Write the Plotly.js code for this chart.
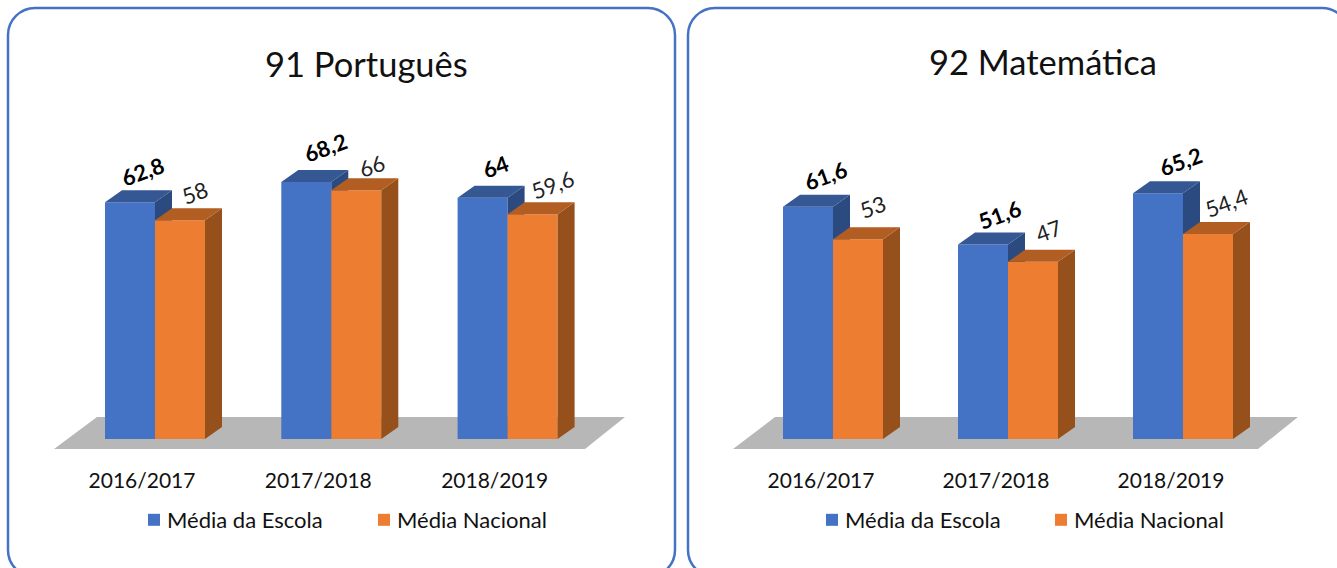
<!DOCTYPE html>
<html>
<head>
<meta charset="utf-8">
<script src="https://cdn.plot.ly/plotly-3.0.1.min.js"></script>
<style>html,body{margin:0;padding:0;background:#fff;overflow:hidden}#chart{width:1337px;height:568px}
.legendtext,.legend2text,.legend3text,.legend4text{transform:translateX(-7px)}</style>
</head>
<body>
<div id="chart"></div>
<script>
const categories = ['2016/2017', '2017/2018', '2018/2019'];
const seriesNames = ['Média da Escola', 'Média Nacional'];
const portuguesEscola = [62.8, 68.2, 64];
const portuguesNacional = [58, 66, 59.6];
const matematicaEscola = [61.6, 51.6, 65.2];
const matematicaNacional = [53, 47, 54.4];

const W = 1337, H = 568, FONT = 'Lato, "Open Sans", sans-serif';
const BLUE = {front: '#4472C4', top: '#355895', side: '#2A4A80'};
const ORANGE = {front: '#ED7D31', top: '#B25D22', side: '#95501C'};
const pxPerUnit = 3.77, baseY = 439, plotTop = 100, plotBottom = 449;
const barW = 50, depthX = 17, depthY = 12;
const fmt = v => String(v).replace('.', ',');
const px = x => x / W, py = y => 1 - y / H;

const panels = [
  {title: '91 Português', titleX: 366, titleY: 63, tick0: 142, step: 176.3, left: 40, right: 640,
   a: portuguesEscola, b: portuguesNacional, offA: -37, offB: 13,
   shiftA: [[12, 31], [19, 34], [13, 31]], shiftB: [[15, 28], [16, 25], [20, 30]],
   floor: [[54, 449], [585, 449], [625, 417], [97, 417]],
   frame: [8, 8, 675, 577], lg: [134, 364], lgY: 520},
  {title: '92 Matemática', titleX: 1042.5, titleY: 62, tick0: 821, step: 175, left: 720, right: 1310,
   a: matematicaEscola, b: matematicaNacional, offA: -38, offB: 12,
   shiftA: [[18, 31], [17, 30], [22, 32]], shiftB: [[15, 33], [16, 31], [19, 31]],
   floor: [[733, 449], [1258, 449], [1298, 417], [775, 417]],
   frame: [688, 8, 1349, 577], lg: [812, 1041], lgY: 520}
];

const traces = [], annotations = [], shapes = [];
const layout = {
  width: W, height: H, margin: {l: 0, r: 0, t: 0, b: 0},
  paper_bgcolor: '#fff', plot_bgcolor: 'rgba(0,0,0,0)',
  font: {family: FONT, color: '#000'}, hovermode: false,
  barmode: 'overlay', showlegend: true
};
const yRange = [(baseY - plotBottom) / pxPerUnit, (baseY - plotTop) / pxPerUnit];

function addSeries(p, values, off, shifts, color, name, xa, ya, legendId, bold) {
  const sx = p.step;
  const dx = depthX / sx, dy = depthY / pxPerUnit;
  const idx = values.map((_, i) => i);
  const side = {x: [], y: []}, top = {x: [], y: []};
  values.forEach((v, i) => {
    const l = i + off / sx, r = l + barW / sx;
    side.x.push(r, r + dx, r + dx, r, r, null);
    side.y.push(0, dy, v + dy, v, 0, null);
    top.x.push(l, l + dx, r + dx, r, l, null);
    top.y.push(v, v + dy, v + dy, v, v, null);
    annotations.push({
      xref: xa, yref: ya, x: l + barW / 2 / sx, y: v,
      xshift: shifts[i][0], yshift: shifts[i][1],
      text: bold ? '<b>' + fmt(v) + '</b>' : fmt(v),
      showarrow: false, textangle: -20, xanchor: 'center', yanchor: 'middle',
      font: {family: FONT, size: 22, color: bold ? '#000' : '#222'}
    });
  });
  traces.push({
    type: 'bar', name, x: idx, y: values, xaxis: xa, yaxis: ya,
    width: barW / sx, offset: off / sx, marker: {color: color.front, line: {width: 0}},
    hoverinfo: 'skip', legend: legendId, showlegend: true
  });
  [[side, color.side], [top, color.top]].forEach(([f, c]) => traces.push({
    type: 'scatter', mode: 'lines', x: f.x, y: f.y, xaxis: xa, yaxis: ya,
    fill: 'toself', fillcolor: c, line: {width: 0, color: c},
    hoverinfo: 'skip', showlegend: false
  }));
}

panels.forEach((p, n) => {
  const base = 2 * n + 1, over = base + 1;
  const id = k => (k === 1 ? '' : k);
  const toX = x => (x - p.tick0) / p.step;
  const xRange = [toX(p.left), toX(p.right)];
  const dom = [px(p.left), px(p.right)];
  const ydom = [py(plotBottom), py(plotTop)];
  layout['xaxis' + id(base)] = {
    domain: dom, range: xRange, type: 'linear', tickmode: 'array', anchor: 'y' + id(base),
    tickvals: categories.map((_, i) => i), ticktext: categories,
    showgrid: false, zeroline: false, showline: false, fixedrange: true,
    ticks: 'outside', ticklen: 13, tickcolor: 'rgba(0,0,0,0)', tickfont: {family: FONT, size: 21, color: '#111'}
  };
  layout['yaxis' + id(base)] = {domain: ydom, range: yRange, visible: false, fixedrange: true, anchor: 'x' + id(base)};
  layout['xaxis' + id(over)] = {range: xRange, overlaying: 'x' + id(base), visible: false, fixedrange: true, anchor: 'y' + id(over)};
  layout['yaxis' + id(over)] = {range: yRange, overlaying: 'y' + id(base), visible: false, fixedrange: true, anchor: 'x' + id(over)};

  const lg1 = 'legend' + (2 * n === 0 ? '' : 2 * n + 1);
  const lg2 = 'legend' + (2 * n + 2);
  addSeries(p, p.a, p.offA, p.shiftA, BLUE, seriesNames[0], 'x' + id(base), 'y' + id(base), lg1, true);
  addSeries(p, p.b, p.offB, p.shiftB, ORANGE, seriesNames[1], 'x' + id(over), 'y' + id(over), lg2, false);
  [[lg1, p.lg[0]], [lg2, p.lg[1]]].forEach(([k, x]) => {
    layout[k] = {x: px(x), y: py(p.lgY), xanchor: 'left', yanchor: 'middle', orientation: 'h',
      bgcolor: 'rgba(0,0,0,0)', font: {family: FONT, size: 22, color: '#111'}};
  });

  shapes.push({
    type: 'path', xref: 'x' + id(base), yref: 'y' + id(base), layer: 'below',
    path: p.floor.map((c, i) => (i ? 'L' : 'M') + toX(c[0]) + ',' + (baseY - c[1]) / pxPerUnit).join(' ') + ' Z',
    fillcolor: '#B7B7B7', line: {width: 0}
  });

  const [x0, y0, x1, y1] = p.frame, r = 27;
  const P = (x, y) => px(x) + ',' + py(y);
  const k = 0.45 * r;
  shapes.push({
    type: 'path', xref: 'paper', yref: 'paper', layer: 'below',
    path: 'M' + P(x0 + r, y0) + ' L' + P(x1 - r, y0) +
      ' C' + P(x1 - k, y0) + ' ' + P(x1, y0 + k) + ' ' + P(x1, y0 + r) +
      ' L' + P(x1, y1 - r) +
      ' C' + P(x1, y1 - k) + ' ' + P(x1 - k, y1) + ' ' + P(x1 - r, y1) +
      ' L' + P(x0 + r, y1) +
      ' C' + P(x0 + k, y1) + ' ' + P(x0, y1 - k) + ' ' + P(x0, y1 - r) +
      ' L' + P(x0, y0 + r) +
      ' C' + P(x0, y0 + k) + ' ' + P(x0 + k, y0) + ' ' + P(x0 + r, y0) + ' Z',
    line: {color: '#4472C4', width: 2.5}, fillcolor: 'rgba(0,0,0,0)'
  });

  annotations.push({
    xref: 'paper', yref: 'paper', x: px(p.titleX), y: py(p.titleY), text: p.title,
    showarrow: false, xanchor: 'center', yanchor: 'middle',
    font: {family: FONT, size: 34.5, color: '#111'}
  });
});

layout.annotations = annotations;
layout.shapes = shapes;
Plotly.newPlot('chart', traces, layout, {displayModeBar: false, staticPlot: true});
</script>
</body>
</html>
